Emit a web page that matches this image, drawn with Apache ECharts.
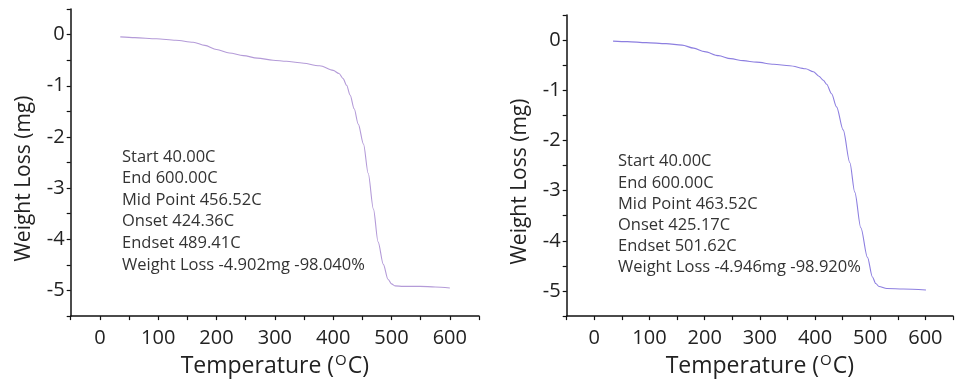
<!DOCTYPE html>
<html>
<head>
<meta charset="utf-8">
<script src="https://cdn.jsdelivr.net/npm/echarts@6/dist/echarts.min.js"></script>
<style>
html,body{margin:0;padding:0;background:#fff;}
#c{width:956px;height:383px;}
</style>
</head>
<body>
<div id="c"></div>
<script>
// ---- data ----
const leftTemp   = [35, 60, 97, 130, 160, 180, 200, 222, 246, 270, 297, 320, 343, 377, 400, 410, 417, 423, 429, 436, 443, 452, 460, 469, 477, 486, 494, 500, 506, 520, 549, 575, 600];
const leftWeight = [-0.045, -0.06, -0.08, -0.11, -0.15, -0.21, -0.29, -0.36, -0.41, -0.46, -0.50, -0.52, -0.55, -0.61, -0.70, -0.76, -0.86, -0.99, -1.18, -1.45, -1.75, -2.14, -2.71, -3.41, -4.05, -4.49, -4.78, -4.87, -4.91, -4.92, -4.92, -4.93, -4.95];
const rightTemp   = [34, 60, 94, 130, 159, 180, 200, 225, 247, 270, 294, 325, 354, 383, 397, 407, 415, 421, 430, 439, 451, 463, 472, 483, 495, 504, 510, 516, 530, 560, 601];
const rightWeight = [-0.02, -0.03, -0.05, -0.07, -0.10, -0.16, -0.23, -0.31, -0.37, -0.41, -0.44, -0.48, -0.51, -0.57, -0.63, -0.72, -0.80, -0.88, -1.07, -1.33, -1.79, -2.44, -3.03, -3.74, -4.33, -4.72, -4.85, -4.91, -4.95, -4.96, -4.98];
const leftNotes  = ["Start 40.00C", "End 600.00C", "Mid Point 456.52C", "Onset 424.36C", "Endset 489.41C", "Weight Loss -4.902mg -98.040%"];
const rightNotes = ["Start 40.00C", "End 600.00C", "Mid Point 463.52C", "Onset 425.17C", "Endset 501.62C", "Weight Loss -4.946mg -98.920%"];
const xTitle = "Temperature (";
const yTitle = "Weight Loss (mg)";

const FONT = "'Open Sans', 'DejaVu Sans', sans-serif";
const chart = echarts.init(document.getElementById('c'), null, {renderer: 'canvas'});

function xAxis(gi) {
  return {
    type: 'value', gridIndex: gi, min: -50, max: 650, interval: 50,
    name: xTitle + '{sup|O}C)',
    nameLocation: 'middle', nameGap: 26,
    nameTextStyle: {fontFamily: FONT, fontSize: 23, color: '#222',
      rich: {sup: {fontFamily: FONT, fontSize: 15, color: '#222', verticalAlign: 'top', padding: [0, 1, 12, 1]}}},
    axisLine: {show: true, onZero: false, lineStyle: {color: '#111', width: 1.5}},
    axisTick: {show: true, length: 4, lineStyle: {color: '#111', width: 1.2}},
    axisLabel: {fontFamily: FONT, fontSize: 20, color: '#222', margin: 12,
      formatter: v => (v % 100 === 0 && v >= 0 && v <= 600) ? String(v) : ''},
    splitLine: {show: false}
  };
}
function yAxis(gi) {
  return {
    type: 'value', gridIndex: gi, min: -5.5, max: 0.5, interval: 0.5,
    name: yTitle, nameLocation: 'middle', nameGap: 36, nameRotate: 90,
    nameTextStyle: {fontFamily: FONT, fontSize: 21, color: '#222', padding: [0, 32, 0, 0]},
    axisLine: {show: true, onZero: false, lineStyle: {color: '#111', width: 1.5}},
    axisTick: {show: true, length: 4, lineStyle: {color: '#111', width: 1.2}},
    axisLabel: {fontFamily: FONT, fontSize: 20, color: '#222', margin: 6,
      formatter: v => (Math.abs(v - Math.round(v)) < 1e-6 && v <= 0 && v >= -5) ? String(Math.round(v)) : ''},
    splitLine: {show: false}
  };
}
function zip(a, b) { return a.map((t, i) => [t, b[i]]); }

chart.setOption({
  backgroundColor: '#fff',
  animation: false,
  grid: [
    {left: 70.7, top: 9, width: 408.3, height: 314},
    {left: 566.7, top: 15, width: 396.9, height: 308}
  ],
  xAxis: [xAxis(0), xAxis(1)],
  yAxis: [yAxis(0), yAxis(1)],
  series: [
    {type: 'line', xAxisIndex: 0, yAxisIndex: 0, data: zip(leftTemp, leftWeight), showSymbol: false,
     smooth: 0.3, smoothMonotone: 'x', lineStyle: {color: '#b49bd8', width: 1.1}},
    {type: 'line', xAxisIndex: 1, yAxisIndex: 1, data: zip(rightTemp, rightWeight), showSymbol: false,
     smooth: 0.3, smoothMonotone: 'x', lineStyle: {color: '#8d7fe0', width: 1.1}}
  ],
  graphic: [
    {type: 'text', left: 122, top: 146, style: {text: leftNotes.join('\n'), font: '16.5px ' + FONT, fill: '#333', lineHeight: 21.6}},
    {type: 'text', left: 618, top: 151, style: {text: rightNotes.join('\n'), font: '16.5px ' + FONT, fill: '#333', lineHeight: 21.2}}
  ]
});
</script>
</body>
</html>
